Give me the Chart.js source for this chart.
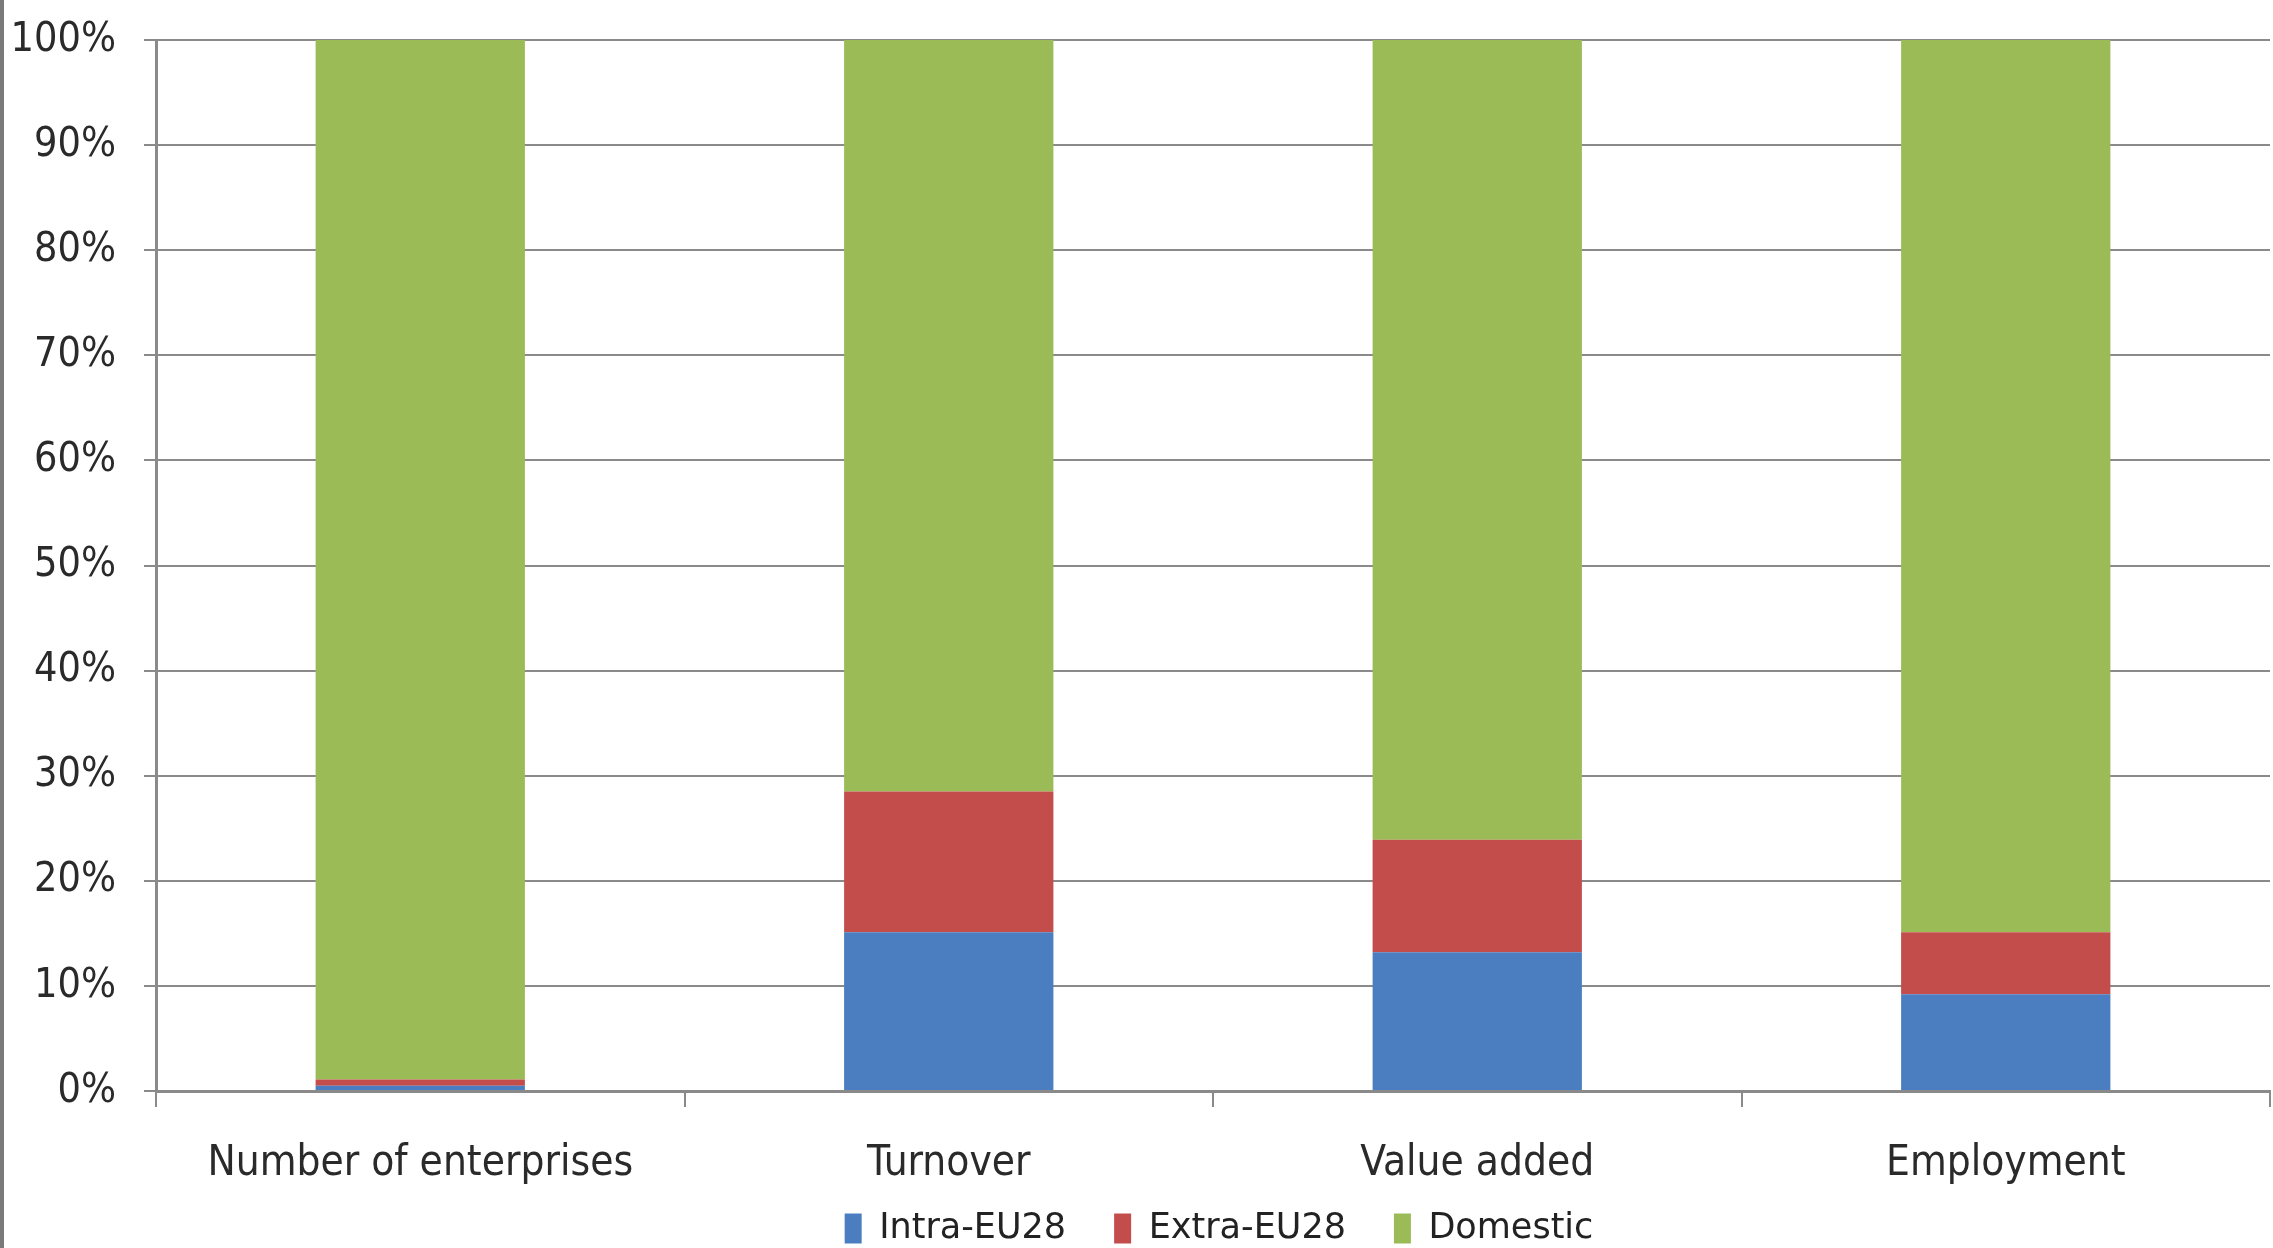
<!DOCTYPE html>
<html>
<head>
<meta charset="utf-8">
<script src="https://cdn.jsdelivr.net/npm/chart.js@4.4.1/dist/chart.umd.min.js"></script>
<style>
  html, body { margin: 0; padding: 0; background: #fff; }
  #wrap { width: 2273px; height: 1248px; position: relative; }
</style>
</head>
<body>
<div id="wrap"><canvas id="share-chart" width="2273" height="1248"></canvas></div>
<script>
// categories and shares (%) per origin of control
const categories = ['Number of enterprises', 'Turnover', 'Value added', 'Employment'];
const intraEU28 = [0.5, 15.1, 13.2, 9.2];
const extraEU28 = [0.6, 13.4, 10.7, 5.9];
const domestic = [98.9, 71.5, 76.1, 84.9];
const yTicks = [0, 10, 20, 30, 40, 50, 60, 70, 80, 90, 100];

const axisFont = '"DejaVu Sans Condensed", "Liberation Sans Narrow", sans-serif';
const gridColor = '#8a8a8a';

// white background plus the thin frame line on the left edge
const framePlugin = {
    id: 'frame',
    beforeDraw(chart) {
        const c = chart.ctx;
        c.save();
        c.fillStyle = '#ffffff';
        c.fillRect(0, 0, chart.width, chart.height);
        c.fillStyle = '#7a7a7a';
        c.fillRect(0, 0, 4, chart.height);
        c.restore();
    }
};

// legend row sits right of centre; its box is stretched up so the row isn't clipped
const legendShift = {
    id: 'legendShift',
    afterLayout(chart) {
        const lg = chart.legend;
        lg.left += 84;
        lg.right += 84;
        lg.top -= 27;
        lg.bottom = chart.height;
    }
};

document.addEventListener("DOMContentLoaded", function () {
    const canvas = document.getElementById('share-chart');
    const ctx = canvas.getContext('2d');
    new Chart(ctx, {
        type: 'bar',
        data: {
            labels: categories,
            datasets: [
                { label: 'Intra-EU28', data: intraEU28, backgroundColor: '#4a7ec0' },
                { label: 'Extra-EU28', data: extraEU28, backgroundColor: '#c24d4b' },
                { label: 'Domestic', data: domestic, backgroundColor: '#9bbb57' }
            ]
        },
        options: {
            responsive: false,
            animation: false,
            categoryPercentage: 1.0,
            barPercentage: 0.396,
            layout: { padding: { top: 40, right: 3, left: 0, bottom: 4 } },
            plugins: {
                tooltip: { enabled: false },
                legend: {
                    position: 'bottom',
                    maxHeight: 54,
                    labels: {
                        font: { family: '"DejaVu Sans", sans-serif', size: 35 },
                        color: '#222',
                        boxWidth: 17,
                        boxHeight: 30,
                        padding: 48
                    }
                }
            },
            scales: {
                x: {
                    stacked: true,
                    offset: true,
                    afterFit(scale) { scale.height = 99; },
                    grid: {
                        offset: true,
                        drawOnChartArea: false,
                        color: gridColor,
                        lineWidth: 2,
                        tickLength: 16
                    },
                    border: { color: gridColor, width: 3 },
                    ticks: {
                        font: { family: axisFont, size: 42 },
                        color: '#2a2a2a',
                        padding: 32
                    }
                },
                y: {
                    stacked: true,
                    min: 0,
                    max: 100,
                    afterFit(scale) {
                        scale.width = 156;
                        scale.paddingTop = 0;
                        scale.paddingBottom = 0;
                    },
                    afterBuildTicks(scale) { scale.ticks = yTicks.map(v => ({ value: v })); },
                    grid: {
                        color: gridColor,
                        lineWidth: 2,
                        tickLength: 12
                    },
                    border: { color: gridColor, width: 3 },
                    ticks: {
                        font: { family: axisFont, size: 41 },
                        color: '#2a2a2a',
                        padding: 28,
                        callback: v => v + '%'
                    }
                }
            }
        },
        plugins: [framePlugin, legendShift]
    });
});
</script>
</body>
</html>
